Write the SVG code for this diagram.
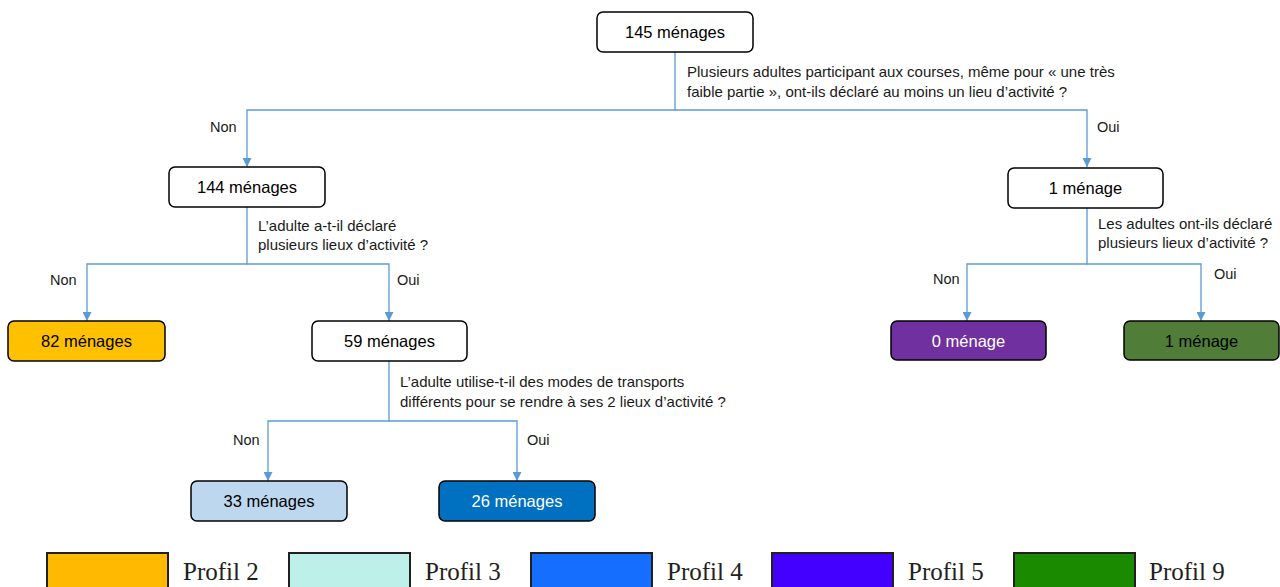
<svg xmlns="http://www.w3.org/2000/svg" width="1280" height="587" viewBox="0 0 1280 587">
<style>
.node rect{stroke:#000;stroke-width:1.5}
.nt{font-family:"Liberation Sans",Arial,sans-serif;font-size:16.5px;fill:#000;text-anchor:middle;dominant-baseline:central}
.q{font-family:"Liberation Sans",Arial,sans-serif;font-size:15px;fill:#1a1a1a}
.lbl{font-family:"Liberation Sans",Arial,sans-serif;font-size:14.5px;fill:#1a1a1a}
.conn path{fill:none;stroke:#5B9BD5;stroke-width:1.3}
.leg rect{stroke:#231F20;stroke-width:2}
.lt{font-family:"Liberation Serif","Times New Roman",serif;font-size:25px;fill:#231F20}
</style>
<defs>
<marker id="arr" markerUnits="userSpaceOnUse" markerWidth="10" markerHeight="9" refX="9" refY="4.5" orient="auto">
<path d="M0,0 L9,4.5 L0,9 Z" fill="#5B9BD5"/>
</marker>
</defs>
<rect width="1280" height="587" fill="#fff"/>
<g id="connectors" class="conn">
<path d="M675,52 V110 H247 V167" marker-end="url(#arr)"/>
<path d="M675,110 H1087 V167" marker-end="url(#arr)"/>
<path d="M247,207 V264 H87 V321" marker-end="url(#arr)"/>
<path d="M247,264 H389 V321" marker-end="url(#arr)"/>
<path d="M389,361 V421 H268 V481" marker-end="url(#arr)"/>
<path d="M389,421 H517 V481" marker-end="url(#arr)"/>
<path d="M1087,208 V264 H967 V321" marker-end="url(#arr)"/>
<path d="M1087,264 H1201 V321" marker-end="url(#arr)"/>
</g>
<g id="questions">
<text class="q" x="687" y="77">Plusieurs adultes participant aux courses, même pour « une très</text>
<text class="q" x="687" y="97">faible partie », ont-ils déclaré au moins un lieu d’activité ?</text>
<text class="q" x="258" y="231">L’adulte a-t-il déclaré</text>
<text class="q" x="258" y="250">plusieurs lieux d’activité ?</text>
<text class="q" x="400" y="387">L’adulte utilise-t-il des modes de transports</text>
<text class="q" x="400" y="407">différents pour se rendre à ses 2 lieux d’activité ?</text>
<text class="q" x="1098" y="229">Les adultes ont-ils déclaré</text>
<text class="q" x="1098" y="248">plusieurs lieux d’activité ?</text>
</g>
<g id="labels">
<text class="lbl" x="210" y="132">Non</text>
<text class="lbl" x="1097" y="132">Oui</text>
<text class="lbl" x="50" y="285">Non</text>
<text class="lbl" x="397" y="285">Oui</text>
<text class="lbl" x="233" y="445">Non</text>
<text class="lbl" x="527" y="445">Oui</text>
<text class="lbl" x="933" y="284">Non</text>
<text class="lbl" x="1214" y="279">Oui</text>
</g>
<g id="n145" class="node"><rect x="597" y="12" width="156" height="40" rx="6" fill="#fff"/><text class="nt" x="675" y="32">145 ménages</text></g>
<g id="n144" class="node"><rect x="169" y="167" width="156" height="40" rx="6" fill="#fff"/><text class="nt" x="247" y="187">144 ménages</text></g>
<g id="n1" class="node"><rect x="1008" y="168" width="155" height="40" rx="6" fill="#fff"/><text class="nt" x="1085.5" y="188">1 ménage</text></g>
<g id="n82" class="node"><rect x="8" y="321" width="157" height="40" rx="6" fill="#FFC000"/><text class="nt" x="86.5" y="341">82 ménages</text></g>
<g id="n59" class="node"><rect x="312" y="321" width="155" height="40" rx="6" fill="#fff"/><text class="nt" x="389.5" y="341">59 ménages</text></g>
<g id="n33" class="node"><rect x="191" y="481" width="156" height="40" rx="6" fill="#BDD7EE"/><text class="nt" x="269" y="501">33 ménages</text></g>
<g id="n26" class="node"><rect x="439" y="481" width="156" height="40" rx="6" fill="#0070C0"/><text class="nt" x="517" y="501" style="fill:#fff">26 ménages</text></g>
<g id="n0" class="node"><rect x="891" y="321" width="155" height="39" rx="6" fill="#7030A0"/><text class="nt" x="968.5" y="340.5" style="fill:#fff">0 ménage</text></g>
<g id="n1b" class="node"><rect x="1124" y="321" width="155" height="39" rx="6" fill="#507E38"/><text class="nt" x="1201.5" y="340.5">1 ménage</text></g>
<g id="legend" class="leg">
<rect x="47" y="553" width="121" height="44" fill="#FFBA00"/>
<text class="lt" x="183" y="580">Profil 2</text>
<rect x="289" y="553" width="121" height="44" fill="#BCF0E8"/>
<text class="lt" x="425" y="580">Profil 3</text>
<rect x="531" y="553" width="121" height="44" fill="#166EFF"/>
<text class="lt" x="667" y="580">Profil 4</text>
<rect x="772" y="553" width="121" height="44" fill="#4400FF"/>
<text class="lt" x="908" y="580">Profil 5</text>
<rect x="1014" y="553" width="121" height="44" fill="#1A8A00"/>
<text class="lt" x="1149" y="580">Profil 9</text>
</g>
</svg>
